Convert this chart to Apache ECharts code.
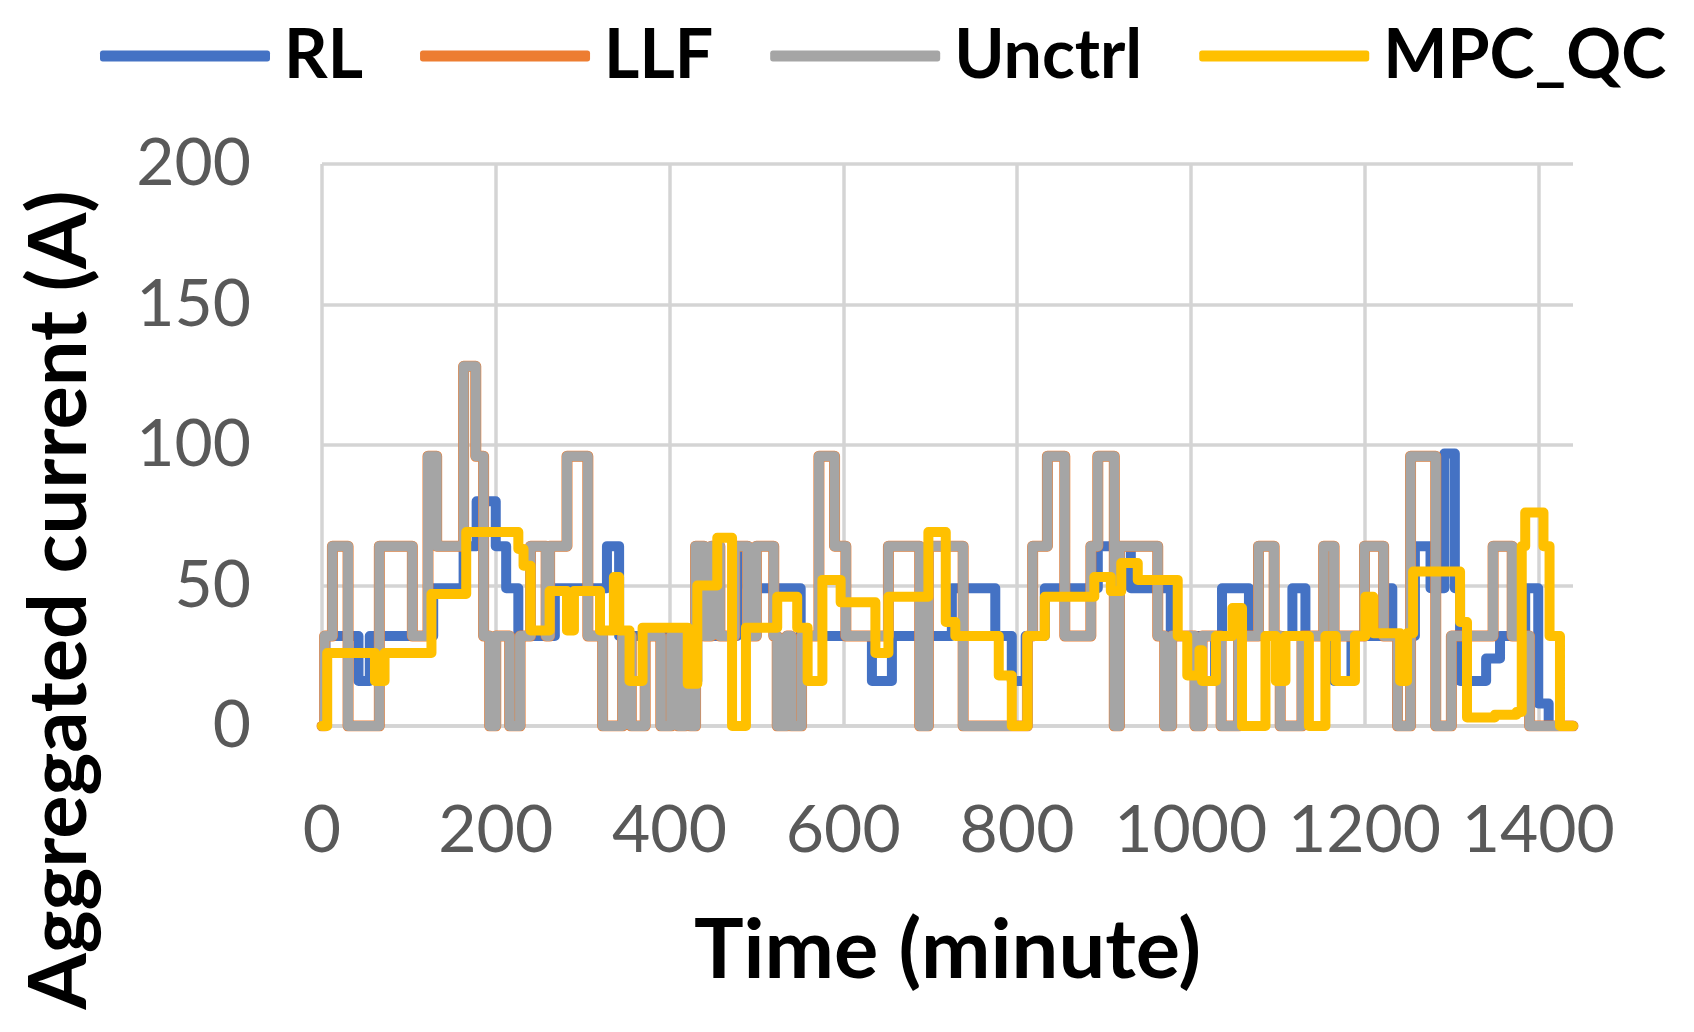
<!DOCTYPE html>
<html>
<head>
<meta charset="utf-8">
<script src="https://cdn.jsdelivr.net/npm/echarts@6.0.0/dist/echarts.min.js"></script>
<style>
html,body{margin:0;padding:0;background:#fff;}
#chart{width:1694px;height:1032px;}
</style>
</head>
<body>
<div id="chart"></div>
<script>
// Step data: [time (minute), aggregated current (A)] — value holds until next change
var seriesNames = ['RL', 'LLF', 'Unctrl', 'MPC_QC'];
var xTicks = [0, 200, 400, 600, 800, 1000, 1200, 1400];
var yTicks = [0, 50, 100, 150, 200];
var xTitle = 'Time (minute)';
var yTitle = 'Aggregated current (A)';

var rlSteps = [[0,0],[4,32],[42,16],[55,32],[128,49],[163,64],[178,80],[200,64],[212,49],[226,32],[268,49],[328,64],[342,32],[421,16],[432,32],[478,64],[490,49],[551,32],[633,16],[656,32],[725,49],[775,32],[794,16],[810,32],[832,49],[893,64],[931,49],[977,32],[1013,16],[1028,32],[1036,49],[1067,32],[1117,49],[1132,32],[1165,16],[1185,32],[1222,49],[1232,32],[1258,64],[1276,49],[1292,97],[1304,49],[1310,16],[1340,24],[1356,32],[1385,49],[1400,8],[1412,0],[1440,0]];

var llfSteps = [[0,0],[3,32],[12,64],[30,0],[66,64],[104,32],[122,96],[132,64],[163,128],[177,96],[186,32],[193,0],[200,32],[216,0],[228,32],[240,64],[258,32],[262,64],[282,96],[306,32],[323,0],[346,32],[356,0],[372,32],[390,0],[402,32],[410,0],[418,32],[424,0],[430,64],[440,32],[448,64],[458,32],[475,64],[490,32],[500,64],[520,32],[524,0],[535,32],[540,0],[552,32],[572,96],[590,64],[603,32],[652,64],[688,0],[698,64],[738,0],[812,32],[818,64],[835,96],[855,32],[885,64],[893,96],[912,0],[918,64],[962,32],[970,0],[978,32],[1005,0],[1013,32],[1035,0],[1055,32],[1078,64],[1096,32],[1103,0],[1128,32],[1153,64],[1165,32],[1200,64],[1222,32],[1238,0],[1253,96],[1282,0],[1300,32],[1348,64],[1370,32],[1390,0],[1440,0]];

var unctrlSteps = [[0,0],[3,32],[12,64],[30,0],[66,64],[104,32],[122,96],[132,64],[163,128],[177,96],[186,32],[193,0],[200,32],[216,0],[228,32],[240,64],[258,32],[262,64],[282,96],[306,32],[323,0],[346,32],[356,0],[372,32],[390,0],[402,32],[410,0],[418,32],[424,0],[430,64],[440,32],[448,64],[458,32],[475,64],[490,32],[500,64],[520,32],[524,0],[535,32],[540,0],[552,32],[572,96],[590,64],[603,32],[652,64],[688,0],[698,64],[738,0],[812,32],[818,64],[835,96],[855,32],[885,64],[893,96],[912,0],[918,64],[962,32],[970,0],[978,32],[1005,0],[1013,32],[1035,0],[1055,32],[1078,64],[1096,32],[1103,0],[1128,32],[1153,64],[1165,32],[1200,64],[1222,32],[1238,0],[1253,96],[1282,0],[1300,32],[1348,64],[1370,32],[1390,0],[1440,0]];

var mpcSteps = [[0,0],[6,26],[61,16],[72,26],[126,47],[166,69],[226,63],[232,57],[240,34],[262,48],[282,34],[290,48],[320,34],[336,53],[342,34],[354,16],[369,35],[421,15],[432,50],[455,67],[472,0],[488,35],[524,46],[547,35],[559,16],[576,52],[597,44],[637,26],[652,46],[698,69],[718,37],[729,32],[779,18],[794,0],[812,32],[832,46],[889,53],[908,48],[920,58],[939,52],[985,32],[996,18],[1010,27],[1013,16],[1029,32],[1048,42],[1059,0],[1086,32],[1098,16],[1109,32],[1136,0],[1155,32],[1167,16],[1189,32],[1201,46],[1210,33],[1241,16],[1249,33],[1256,55],[1310,37],[1318,3],[1350,4],[1375,5],[1381,64],[1385,76],[1406,64],[1413,32],[1425,0],[1440,0]];

var colors = ['#4472C4', '#ED7D31', '#A5A5A5', '#FFC000'];
var widths = [10, 11, 10, 10];
var allData = [rlSteps, llfSteps, unctrlSteps, mpcSteps];

var FONT = 'Lato, "Open Sans", "Noto Sans", sans-serif';
var chart = echarts.init(document.getElementById('chart'), null, {renderer: 'canvas'});

var series = seriesNames.map(function (name, i) {
  return {
    name: name,
    type: 'line',
    step: 'end',
    data: allData[i],
    showSymbol: false,
    symbol: 'none',
    color: colors[i],
    lineStyle: {width: widths[i], color: colors[i], cap: 'round', join: 'round'},
    emphasis: {disabled: true}
  };
});

chart.setOption({
  animation: false,
  backgroundColor: '#ffffff',
  color: colors,
  legend: {
    data: seriesNames,
    left: 95,
    top: 17,
    itemWidth: 170,
    itemHeight: 11,
    itemGap: 57,
    icon: 'roundRect',
    textStyle: {fontFamily: FONT, fontSize: 68, fontWeight: 'bold', color: '#000', padding: [0, 0, 0, 9]}
  },
  grid: {left: 322, right: 121, top: 164, bottom: 306, containLabel: false},
  graphic: [{
    type: 'text',
    x: 60,
    y: 600,
    rotation: Math.PI / 2,
    style: {
      text: yTitle,
      fontFamily: FONT, fontSize: 81, fontWeight: 'bold', fill: '#000',
      align: 'center', verticalAlign: 'middle'
    }
  }],
  xAxis: {
    type: 'value',
    min: 0,
    max: 1440,
    interval: 200,
    name: xTitle,
    nameLocation: 'middle',
    nameGap: 184,
    nameTextStyle: {fontFamily: FONT, fontSize: 83, fontWeight: 'bold', color: '#000'},
    axisLine: {show: true, lineStyle: {color: '#d4d4d4', width: 3.5}},
    axisTick: {show: false},
    axisLabel: {
      fontFamily: FONT, fontSize: 66, color: '#595959', margin: 72,
      showMaxLabel: false,
      formatter: function (v) { return xTicks.indexOf(v) >= 0 ? String(v) : ''; }
    },
    splitLine: {show: true, showMaxLine: false, lineStyle: {color: '#d4d4d4', width: 3.5}}
  },
  yAxis: {
    type: 'value',
    min: 0,
    max: 200,
    interval: 50,
    axisLine: {show: false},
    axisTick: {show: false},
    axisLabel: {
      fontFamily: FONT, fontSize: 66, color: '#595959', margin: 71,
      formatter: function (v) { return yTicks.indexOf(v) >= 0 ? String(v) : ''; }
    },
    splitLine: {show: true, lineStyle: {color: '#d4d4d4', width: 3.5}}
  },
  series: series
});
</script>
</body>
</html>
